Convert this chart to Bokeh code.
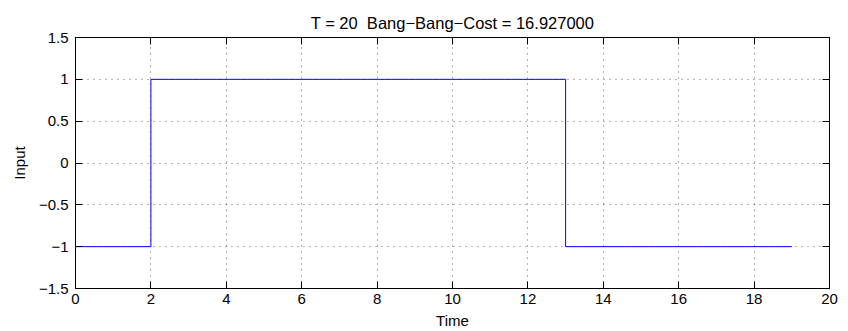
from bokeh.plotting import figure
from bokeh.models import LinearAxis, FixedTicker
from bokeh.embed import file_html
from bokeh.resources import INLINE

# data: bang-bang input (step function)
switch_times = [0, 2, 13, 19]
input_levels = [-1, 1, -1, -1]

x_ticks = [0, 2, 4, 6, 8, 10, 12, 14, 16, 18, 20]
y_ticks = [-1.5, -1, -0.5, 0, 0.5, 1, 1.5]
y_tick_labels = ["\u22121.5", "\u22121", "\u22120.5", "0", "0.5", "1", "1.5"]
title_text = "T = 20 \u00a0Bang\u2212Bang\u2212Cost = 16.927000"

FONT = "Liberation Sans"
FS = "15px"

p = figure(frame_width=754, frame_height=251,
           x_range=(0, 20), y_range=(-1.5, 1.5),
           output_backend="svg", toolbar_location=None,
           min_border_left=75, min_border_right=11,
           min_border_top=37, min_border_bottom=10,
           x_axis_label="Time", y_axis_label="Input",
           title=title_text)
p.background_fill_color = "white"
p.border_fill_color = "white"
p.outline_line_color = "black"
p.outline_line_width = 1

p.title.align = "center"
p.title.text_font = FONT
p.title.text_font_size = "16.5px"
p.title.text_font_style = "normal"
p.title.text_color = "black"
p.title.standoff = 11

p.step(switch_times, input_levels, mode="after", line_color="#0000ff", line_width=1)

# extra box axes (top and right), ticks only
top_axis = LinearAxis()
right_axis = LinearAxis()
p.add_layout(top_axis, "above")
p.add_layout(right_axis, "right")

for ax in p.xaxis:
    ax.ticker = FixedTicker(ticks=x_ticks)
for ax in p.yaxis:
    ax.ticker = FixedTicker(ticks=y_ticks)
    ax.major_label_overrides = {t: l for t, l in zip(y_ticks, y_tick_labels)}

for ax in list(p.xaxis) + list(p.yaxis):
    ax.major_tick_in = 7
    ax.major_tick_out = 0
    ax.minor_tick_line_color = None
    ax.axis_line_color = "black"
    ax.major_tick_line_color = "black"
    ax.major_label_text_font = FONT
    ax.major_label_text_font_size = FS
    ax.major_label_text_color = "black"
    ax.axis_label_text_font = FONT
    ax.axis_label_text_font_size = FS
    ax.axis_label_text_font_style = "normal"
    ax.axis_label_text_color = "black"

for ax in (top_axis, right_axis):
    ax.major_label_text_font_size = "1px"
    ax.major_label_text_color = None
    ax.major_label_standoff = 0

p.xaxis[0].major_label_standoff = 8
p.xaxis[0].axis_label_standoff = 1
p.yaxis[0].major_label_standoff = 7
p.yaxis[0].axis_label_standoff = 8

for g in p.grid:
    g.grid_line_color = "black"
    g.grid_line_alpha = 0.6
    g.grid_line_dash = "1 5"
    g.grid_line_width = 1

open("out.html", "w").write(file_html(p, INLINE))
